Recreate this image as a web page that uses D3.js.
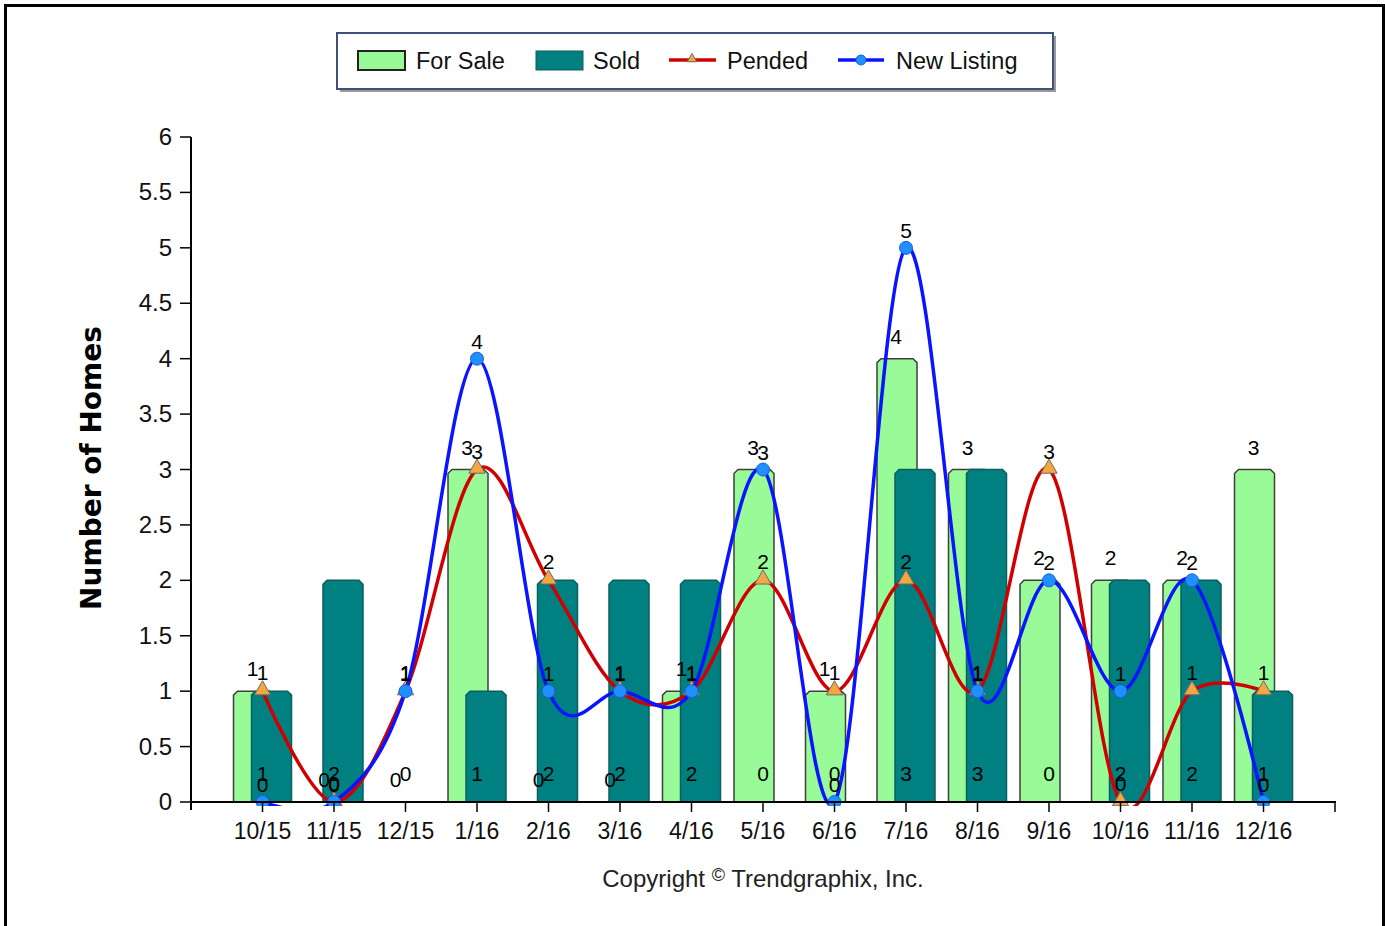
<!DOCTYPE html>
<html lang="en">
<head>
  <meta charset="UTF-8">
  <title>Number of Homes</title>
  <style>
    body {
      margin: 0;
      background: #fff;
    }
    text {
      font-family: "Liberation Sans", Arial, sans-serif;
    }
  </style>
</head>
<body>
  <script src="https://d3js.org/d3.v7.min.js"></script>
  <script>
    const months = ['10/15', '11/15', '12/15', '1/16', '2/16', '3/16', '4/16', '5/16', '6/16', '7/16', '8/16', '9/16', '10/16', '11/16', '12/16'];
    const forSale = [1, 0, 0, 3, 0, 0, 1, 3, 1, 4, 3, 2, 2, 2, 3];
    const sold = [1, 2, 0, 1, 2, 2, 2, 0, 0, 3, 3, 0, 2, 2, 1];
    const pended = [1, 0, 1, 3, 2, 1, 1, 2, 1, 2, 1, 3, 0, 1, 1];
    const newListing = [0, 0, 1, 4, 1, 1, 1, 3, 0, 5, 1, 2, 1, 2, 0];
    const yTicks = [0, 0.5, 1, 1.5, 2, 2.5, 3, 3.5, 4, 4.5, 5, 5.5, 6];

    const width = 1385;
    const height = 926;

    const svg = d3.select('body').append('svg')
      .attr('width', width)
      .attr('height', height);

    // outer frame
    svg.append('rect')
      .attr('x', 5.5).attr('y', 5.5)
      .attr('width', 1378).attr('height', 940)
      .attr('fill', 'none')
      .attr('stroke', '#000')
      .attr('stroke-width', 3);

    const x = d3.scaleLinear().domain([0, months.length + 1]).range([191, 1335]);
    const y = d3.scaleLinear().domain([0, 6]).range([802, 137]);

    const barW = 40;
    const barOff = 9;

    // bar with chamfered top corners
    function barPath(cx, v) {
      const x0 = cx - barW / 2, x1 = cx + barW / 2;
      const y0 = y(0), y1 = y(v);
      if (v <= 0) return null;
      const c = 4;
      return `M${x0},${y0}L${x0},${y1 + c}L${x0 + c},${y1}L${x1 - c},${y1}L${x1},${y1 + c}L${x1},${y0}Z`;
    }

    const plot = svg.append('g');

    plot.selectAll('.forsale')
      .data(forSale)
      .enter().append('path')
      .attr('class', 'forsale')
      .attr('d', (d, i) => barPath(x(i + 1) - barOff, d))
      .attr('fill', '#98fb98')
      .attr('stroke', '#3f3f3f')
      .attr('stroke-width', 1.5);

    plot.selectAll('.sold')
      .data(sold)
      .enter().append('path')
      .attr('class', 'sold')
      .attr('d', (d, i) => barPath(x(i + 1) + barOff, d))
      .attr('fill', '#008080')
      .attr('stroke', '#0b5f5f')
      .attr('stroke-width', 1.5);

    // clip for spline overshoot
    svg.append('clipPath').attr('id', 'plotclip')
      .append('rect')
      .attr('x', 191).attr('y', 130)
      .attr('width', 1144).attr('height', 676);

    const line = d3.line()
      .x((d, i) => x(i + 1))
      .y(d => y(d))
      .curve(d3.curveCardinal.tension(0));

    const lines = svg.append('g').attr('clip-path', 'url(#plotclip)');

    lines.append('path')
      .datum(pended)
      .attr('d', line)
      .attr('fill', 'none')
      .attr('stroke', '#d00000')
      .attr('stroke-width', 3.5);

    const tri = d3.symbol().type(d3.symbolTriangle).size(115);
    lines.selectAll('.tri')
      .data(pended)
      .enter().append('path')
      .attr('class', 'tri')
      .attr('d', tri)
      .attr('transform', (d, i) => `translate(${x(i + 1)},${y(d) - 1})`)
      .attr('fill', '#f4a640')
      .attr('stroke', '#6b6b6b')
      .attr('stroke-width', 1);

    lines.append('path')
      .datum(newListing)
      .attr('d', line)
      .attr('fill', 'none')
      .attr('stroke', '#0a14ff')
      .attr('stroke-width', 3.5);

    lines.selectAll('.dot')
      .data(newListing)
      .enter().append('circle')
      .attr('class', 'dot')
      .attr('cx', (d, i) => x(i + 1))
      .attr('cy', d => y(d))
      .attr('r', 6.5)
      .attr('fill', '#1e90ff')
      .attr('stroke', '#1d5be0')
      .attr('stroke-width', 1);

    // axes
    const axisG = svg.append('g');
    axisG.append('line')
      .attr('x1', 191).attr('x2', 191)
      .attr('y1', y(6)).attr('y2', y(0) + 8)
      .attr('stroke', '#000').attr('stroke-width', 2);
    axisG.append('line')
      .attr('x1', 191).attr('x2', 1336)
      .attr('y1', y(0)).attr('y2', y(0))
      .attr('stroke', '#000').attr('stroke-width', 2);

    axisG.selectAll('.ytick')
      .data(yTicks)
      .enter().append('line')
      .attr('x1', 180).attr('x2', 191)
      .attr('y1', d => y(d)).attr('y2', d => y(d))
      .attr('stroke', '#000').attr('stroke-width', 1.5);

    axisG.selectAll('.ylab')
      .data(yTicks)
      .enter().append('text')
      .attr('x', 172)
      .attr('y', d => y(d) + 8)
      .attr('text-anchor', 'end')
      .attr('font-size', 24)
      .attr('fill', '#111')
      .text(d => d);

    axisG.selectAll('.xtick')
      .data(d3.range(1, months.length + 2))
      .enter().append('line')
      .attr('x1', d => x(d)).attr('x2', d => x(d))
      .attr('y1', y(0)).attr('y2', y(0) + 10)
      .attr('stroke', '#000').attr('stroke-width', 1.5);

    axisG.selectAll('.xlab')
      .data(months)
      .enter().append('text')
      .attr('x', (d, i) => x(i + 1))
      .attr('y', 839)
      .attr('text-anchor', 'middle')
      .attr('font-size', 23)
      .attr('fill', '#111')
      .text(d => d);

    svg.append('text')
      .attr('transform', 'translate(101,468) rotate(-90)')
      .attr('text-anchor', 'middle')
      .style('font-family', '"DejaVu Sans", Verdana, sans-serif')
      .attr('font-size', 28)
      .attr('font-weight', 'bold')
      .attr('fill', '#000')
      .text('Number of Homes');

    // data labels
    const labels = svg.append('g')
      .attr('font-size', 21)
      .attr('fill', '#000')
      .attr('text-anchor', 'middle');

    labels.selectAll('.lfs')
      .data(forSale)
      .enter().append('text')
      .attr('x', (d, i) => x(i + 1) - 10)
      .attr('y', d => y(d) - 15)
      .text(d => d);

    labels.selectAll('.lsold')
      .data(sold)
      .enter().append('text')
      .attr('x', (d, i) => x(i + 1))
      .attr('y', y(0) - 21)
      .text(d => d);

    labels.selectAll('.lpend')
      .data(pended)
      .enter().append('text')
      .attr('x', (d, i) => x(i + 1))
      .attr('y', d => y(d) - 11)
      .text(d => d);

    labels.selectAll('.lnew')
      .data(newListing)
      .enter().append('text')
      .attr('x', (d, i) => x(i + 1))
      .attr('y', d => y(d) - 10)
      .text(d => d);

    // legend
    const legend = svg.append('g');
    legend.append('rect')
      .attr('x', 340).attr('y', 36)
      .attr('width', 716).attr('height', 56)
      .attr('fill', '#9a9a9a');
    legend.append('rect')
      .attr('x', 337).attr('y', 33)
      .attr('width', 716).attr('height', 56)
      .attr('fill', '#fff')
      .attr('stroke', '#3f5178')
      .attr('stroke-width', 2);

    legend.append('rect')
      .attr('x', 358).attr('y', 51)
      .attr('width', 47).attr('height', 19)
      .attr('fill', '#98fb98')
      .attr('stroke', '#222').attr('stroke-width', 2);
    legend.append('rect')
      .attr('x', 536).attr('y', 51)
      .attr('width', 47).attr('height', 19)
      .attr('fill', '#008080')
      .attr('stroke', '#0b5f5f').attr('stroke-width', 1);
    legend.append('line')
      .attr('x1', 669).attr('x2', 716)
      .attr('y1', 60).attr('y2', 60)
      .attr('stroke', '#d00000').attr('stroke-width', 3.5);
    legend.append('path')
      .attr('d', d3.symbol().type(d3.symbolTriangle).size(40))
      .attr('transform', 'translate(692,59)')
      .attr('fill', '#f4a640')
      .attr('stroke', '#6b6b6b').attr('stroke-width', 1);
    legend.append('line')
      .attr('x1', 838).attr('x2', 884)
      .attr('y1', 60).attr('y2', 60)
      .attr('stroke', '#0a14ff').attr('stroke-width', 3.5);
    legend.append('circle')
      .attr('cx', 861).attr('cy', 60).attr('r', 5)
      .attr('fill', '#1e90ff')
      .attr('stroke', '#1d5be0');

    const legendText = [
      { label: 'For Sale', x: 416 },
      { label: 'Sold', x: 593 },
      { label: 'Pended', x: 727 },
      { label: 'New Listing', x: 896 }
    ];
    legend.selectAll('.ltext')
      .data(legendText)
      .enter().append('text')
      .attr('x', d => d.x)
      .attr('y', 69)
      .attr('font-size', 23.5)
      .attr('fill', '#111')
      .text(d => d.label);

    // copyright
    const copy = svg.append('text')
      .attr('x', 763)
      .attr('y', 887)
      .attr('text-anchor', 'middle')
      .attr('font-size', 24)
      .attr('fill', '#222');
    copy.append('tspan').text('Copyright ');
    copy.append('tspan').attr('font-size', 18).attr('dy', -6).text('©');
    copy.append('tspan').attr('dy', 6).text(' Trendgraphix, Inc.');
  </script>
</body>
</html>
